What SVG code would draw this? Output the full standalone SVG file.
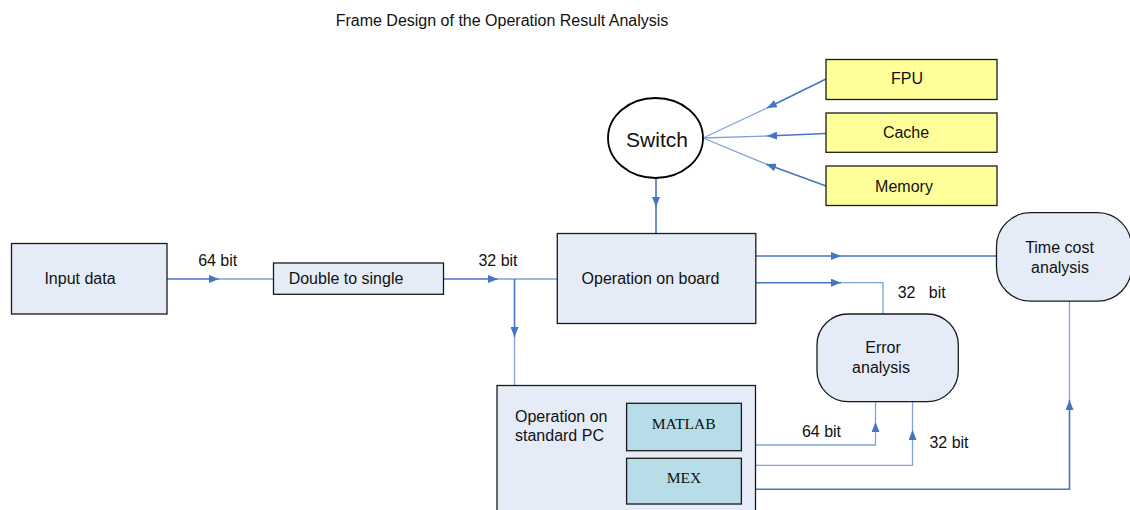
<svg xmlns="http://www.w3.org/2000/svg" width="1130" height="510" viewBox="0 0 1130 510">
  <defs>
    <marker id="arrow" markerUnits="userSpaceOnUse" viewBox="0 0 10 8" refX="10" refY="4" markerWidth="10" markerHeight="8" orient="auto">
      <path d="M0,0 L10,4 L0,8 Z" fill="#4674C4"/>
    </marker>
    <style>
      text { font-family: "Liberation Sans", Arial, sans-serif; font-size: 16px; fill: #111; }
      .serif { font-family: "Liberation Serif", "Times New Roman", serif; font-size: 15.6px; }
      .mid { text-anchor: middle; }
      .node { fill: #E6ECF7; stroke: #1a1a1a; stroke-width: 1.3; }
      .unit { fill: #FFFF99; stroke: #1a1a1a; stroke-width: 1.3; }
      .tool { fill: #B7DDE8; stroke: #1a1a1a; stroke-width: 1.3; }
      .hub { fill: #ffffff; stroke: #000; stroke-width: 1.8; }
      .wire { fill: none; stroke: #4674C4; stroke-width: 1.6; }
      .tail { fill: none; stroke: #7FA2DA; stroke-width: 1.3; }
    </style>
  </defs>

  <text x="502" y="26" class="mid">Frame Design of the Operation Result Analysis</text>

  <!-- connectors: solid run up to the arrowhead, lighter run after it -->
  <g id="connectors">
    <path class="wire" d="M167,279 H219" marker-end="url(#arrow)"/>
    <path class="tail" d="M219,279 H273"/>

    <path class="wire" d="M443,279 H498" marker-end="url(#arrow)"/>
    <path class="tail" d="M498,279 H557"/>

    <path class="wire" d="M514.5,279 V337" marker-end="url(#arrow)"/>
    <path class="tail" d="M514.5,337 V385.5"/>

    <path class="wire" d="M656,178 V207" marker-end="url(#arrow)"/>
    <path class="wire" d="M656,207 V233.5"/>

    <path class="wire" d="M826,79 L767,108" marker-end="url(#arrow)"/>
    <path class="tail" d="M767,108 L703,138"/>
    <path class="wire" d="M826,133.5 L767,136" marker-end="url(#arrow)"/>
    <path class="tail" d="M767,136 L703,138"/>
    <path class="wire" d="M826,186 L766,164" marker-end="url(#arrow)"/>
    <path class="tail" d="M766,164 L703,138"/>

    <path class="wire" d="M756,256 H841" marker-end="url(#arrow)"/>
    <path class="wire" d="M841,256 H996.5"/>

    <path class="wire" d="M756,282.7 H841" marker-end="url(#arrow)"/>
    <path class="tail" d="M841,282.7 H883 V314"/>

    <path class="tail" d="M741,445 H875.5 V422" marker-end="url(#arrow)"/>
    <path class="tail" d="M875.5,422 V402"/>

    <path class="tail" d="M741,465.3 H912.5 V430" marker-end="url(#arrow)"/>
    <path class="tail" d="M912.5,430 V402"/>

    <path class="wire" d="M741,489.3 H1069.5 V400" marker-end="url(#arrow)"/>
    <path class="tail" d="M1069.5,400 V301"/>
  </g>

  <g id="input-data">
    <rect class="node" x="11.5" y="243.5" width="155.5" height="70.5"/>
    <text x="80" y="284.3" class="mid">Input data</text>
  </g>

  <g id="double-to-single">
    <rect class="node" x="273.5" y="263" width="170" height="31.3"/>
    <text x="346" y="284.3" class="mid">Double to single</text>
  </g>

  <g id="operation-on-board">
    <rect class="node" x="557.3" y="233.5" width="198.5" height="90"/>
    <text x="650.5" y="284.3" class="mid">Operation on board</text>
  </g>

  <g id="switch">
    <ellipse class="hub" cx="655.5" cy="138" rx="47.5" ry="40"/>
    <text x="657" y="146.8" class="mid" style="font-size:21px">Switch</text>
  </g>

  <g id="fpu">
    <rect class="unit" x="826" y="59.5" width="171" height="40"/>
    <text x="907" y="84.3" class="mid">FPU</text>
  </g>

  <g id="cache">
    <rect class="unit" x="826" y="113" width="171" height="39.3"/>
    <text x="906" y="138.3" class="mid">Cache</text>
  </g>

  <g id="memory">
    <rect class="unit" x="826" y="166" width="171" height="39.5"/>
    <text x="904" y="191.7" class="mid">Memory</text>
  </g>

  <g id="time-cost-analysis">
    <rect class="node" x="996.5" y="212.7" width="135" height="88.5" rx="34" ry="34"/>
    <text x="1059.5" y="252.7" class="mid">Time cost</text>
    <text x="1060" y="272.5" class="mid">analysis</text>
  </g>

  <g id="error-analysis">
    <rect class="node" x="817" y="314" width="141.3" height="87.7" rx="31" ry="31"/>
    <text x="883" y="353.3" class="mid">Error</text>
    <text x="881" y="373.3" class="mid">analysis</text>
  </g>

  <g id="standard-pc">
    <rect class="node" x="497" y="385.5" width="258.5" height="140"/>
    <text x="515" y="421.7">Operation on</text>
    <text x="515" y="440.7">standard PC</text>
  </g>

  <g id="matlab">
    <rect class="tool" x="626.6" y="403.3" width="114.8" height="47.4"/>
    <text x="683.7" y="428.5" class="mid serif">MATLAB</text>
  </g>

  <g id="mex">
    <rect class="tool" x="626.6" y="458.3" width="114.8" height="45.7"/>
    <text x="684" y="483" class="mid serif">MEX</text>
  </g>

  <g id="labels">
    <text x="217.7" y="265.6" class="mid">64 bit</text>
    <text x="498" y="265.6" class="mid">32 bit</text>
    <text x="897.7" y="298" xml:space="preserve" style="white-space:pre">32   bit</text>
    <text x="821.5" y="436.6" class="mid">64 bit</text>
    <text x="949" y="448.3" class="mid">32 bit</text>
  </g>
</svg>
